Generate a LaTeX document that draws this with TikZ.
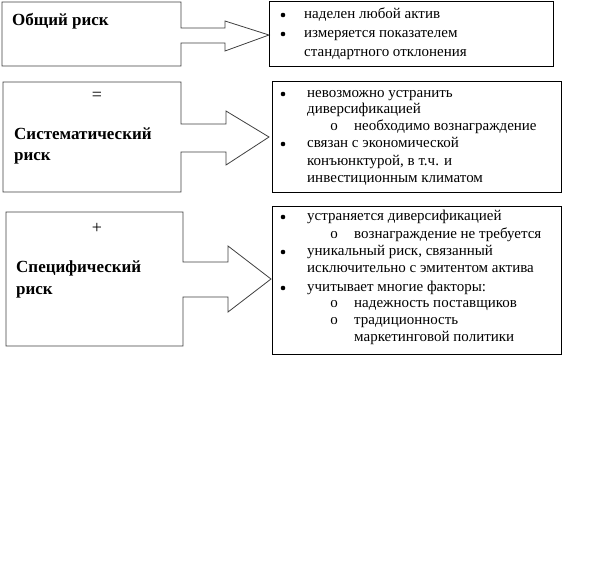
\documentclass[tikz,border=0pt]{standalone}
\usepackage{fontspec}
\setmainfont{Liberation Serif}
\begin{document}
\begin{tikzpicture}[x=1pt,y=-1pt,
  outline/.style={draw=black!75, line width=0.8pt, fill=white},
  listbox/.style={draw=black, line width=0.8pt},
  ltxt/.style={anchor=mid west, inner sep=0pt, font=\fontsize{15}{17}\selectfont},
  btxt/.style={anchor=mid west, inner sep=0pt, font=\fontsize{17}{19}\selectfont\bfseries},
  ctxt/.style={anchor=mid, inner sep=0pt, font=\fontsize{18}{19}\selectfont},
  bul/.style={circle, fill=black, inner sep=0pt, minimum size=4.6pt},
  sbul/.style={anchor=mid, inner sep=0pt, font=\fontsize{15}{17}\selectfont}]
\useasboundingbox (0,0) rectangle (589,574);
% callout shapes
\draw[outline] (2,2) -- (181,2) -- (181,28) -- (225,28) -- (225,21) -- (269,35) -- (225,51) -- (225,43) -- (181,43) -- (181,66) -- (2,66) -- cycle;
\draw[outline] (3,82) -- (181,82) -- (181,124) -- (226,124) -- (226,111) -- (269,137) -- (226,165) -- (226,152) -- (181,152) -- (181,192) -- (3,192) -- cycle;
\draw[outline] (6,212) -- (183,212) -- (183,262) -- (228,262) -- (228,246) -- (271,279) -- (228,312) -- (228,297) -- (183,297) -- (183,346) -- (6,346) -- cycle;
% right boxes
\node[listbox, minimum width=284, minimum height=65, anchor=north west, inner sep=0pt] (R1) at (269,1) {};
\node[listbox, minimum width=289, minimum height=111, anchor=north west, inner sep=0pt] (R2) at (272,81) {};
\node[listbox, minimum width=289, minimum height=148, anchor=north west, inner sep=0pt] (R3) at (272,206) {};
% left labels
\node[btxt] (l1) at (12,23) {Общий риск};
\node[ctxt] (eq) at (97,98) {=};
\node[btxt] (l2a) at (14,137) {Систематический};
\node[btxt] (l2b) at (14,158) {риск};
\node[ctxt] (pl) at (97,231) {+};
\node[btxt] (l3a) at (16,270) {Специфический};
\node[btxt] (l3b) at (16,292) {риск};
% box 1
\node[bul] (b11) at (283,15) {};
\node[ltxt] (t11) at (304,16) {наделен любой актив};
\node[bul] (b12) at (283,34) {};
\node[ltxt] (t12) at (304,35) {измеряется показателем};
\node[ltxt] (t13) at (304,54) {стандартного отклонения};
% box 2
\node[bul] (b21) at (283,94) {};
\node[ltxt] (t21) at (307,95) {невозможно устранить};
\node[ltxt] (t22) at (307,111) {диверсификацией};
\node[sbul] (s21) at (334,128) {o};
\node[ltxt] (t23) at (354,128) {необходимо вознаграждение};
\node[bul] (b22) at (283,144) {};
\node[ltxt] (t24) at (307,145) {связан с экономической};
\node[ltxt] (t25) at (307,163) {конъюнктурой, в т.ч. и};
\node[ltxt] (t26) at (307,180) {инвестиционным климатом};
% box 3
\node[bul] (b31) at (283,217) {};
\node[ltxt] (t31) at (307,218) {устраняется диверсификацией};
\node[sbul] (s31) at (334,236) {o};
\node[ltxt] (t32) at (354,236) {вознаграждение не требуется};
\node[bul] (b32) at (283,252) {};
\node[ltxt] (t33) at (307,253) {уникальный риск, связанный};
\node[ltxt] (t34) at (307,270) {исключительно с эмитентом актива};
\node[bul] (b33) at (283,288) {};
\node[ltxt] (t35) at (307,289) {учитывает многие факторы:};
\node[sbul] (s32) at (334,305) {o};
\node[ltxt] (t36) at (354,305) {надежность поставщиков};
\node[sbul] (s33) at (334,322) {o};
\node[ltxt] (t37) at (354,322) {традиционность};
\node[ltxt] (t38) at (354,339) {маркетинговой политики};
\end{tikzpicture}
\end{document}
